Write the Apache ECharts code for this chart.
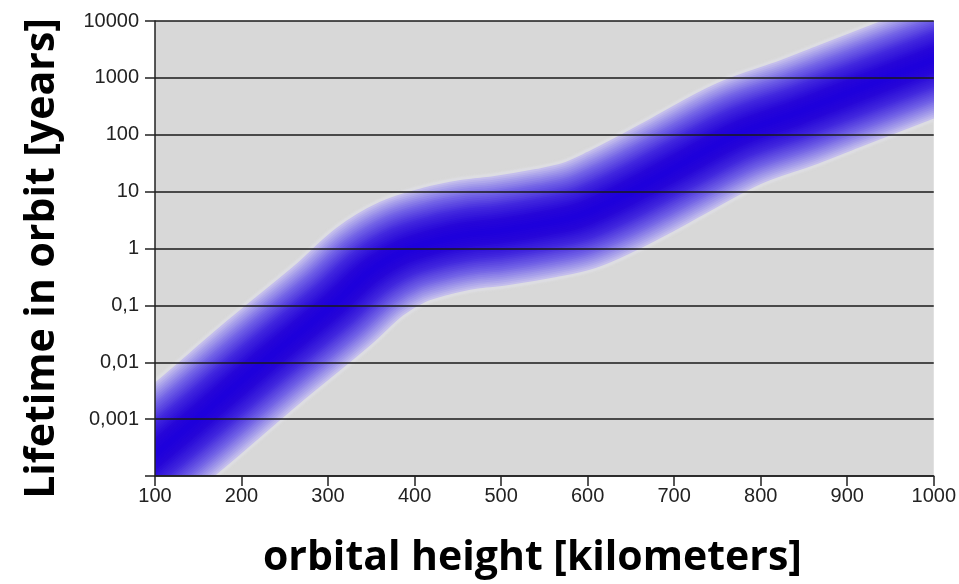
<!DOCTYPE html>
<html>
<head>
<meta charset="utf-8">
<script src="https://cdn.jsdelivr.net/npm/echarts@6/dist/echarts.min.js"></script>
<style>html,body{margin:0;padding:0;background:#fff;}#c{width:959px;height:584px;}</style>
</head>
<body>
<div id="c"></div>
<script>
// orbital height (km) along the centre of the band
var heightKm = [100, 150, 225, 305, 348, 386, 425, 463, 498, 552, 590, 628, 668, 706, 775, 844, 890, 1000];
// typical lifetime in orbit (years) at the centre of the band
var lifetimeYears = [0.00024, 0.00105, 0.01, 0.1, 0.39, 0.87, 1.35, 1.78, 2.04, 2.8, 3.8, 6.8, 14, 29, 105, 250, 470, 2100];
// axis tick labels
var yTickLabels = {'-4': '', '-3': '0,001', '-2': '0,01', '-1': '0,1', '0': '1', '1': '10', '2': '100', '3': '1000', '4': '10000'};

var centre = heightKm.map(function (h, i) { return [h, lifetimeYears[i]]; });

// --- styling of the fuzzy band (pixel widths and colours only) ---
function hex(c) { return [parseInt(c.substr(1, 2), 16), parseInt(c.substr(3, 2), 16), parseInt(c.substr(5, 2), 16)]; }
function mix(a, b, t) { var A = hex(a), B = hex(b); return 'rgb(' + [0, 1, 2].map(function (k) { return Math.round(A[k] + (B[k] - A[k]) * t); }).join(',') + ')'; }
var stops = [[0, '#c4beec'], [0.1, '#a69eea'], [0.3, '#7262e6'], [0.55, '#4228de'], [0.8, '#2606d8'], [1, '#1e00dc']];
function rampColor(t) {
  for (var i = 1; i < stops.length; i++) {
    if (t <= stops[i][0]) { var s0 = stops[i - 1], s1 = stops[i]; return mix(s0[1], s1[1], (t - s0[0]) / (s1[0] - s0[0])); }
  }
  return stops[stops.length - 1][1];
}
var N = 30, W0 = 110, W1 = 3;

function renderBand(params, api) {
  if (params.dataIndex !== 0) return null;
  var pts = centre.map(function (p) { return api.coord(p); });
  var children = [{
    type: 'polyline',
    shape: {points: pts, smooth: 0.35},
    style: {fill: null, stroke: '#dddde2', lineWidth: W0 + 5, lineCap: 'square', lineJoin: 'round', shadowBlur: 3, shadowColor: 'rgba(226,226,230,0.8)'}
  }];
  for (var i = 0; i < N; i++) {
    var t = i / (N - 1);
    children.push({
      type: 'polyline',
      shape: {points: pts, smooth: 0.35},
      style: {fill: null, stroke: rampColor(t), lineWidth: W0 + (W1 - W0) * t, lineCap: 'square', lineJoin: 'round'}
    });
  }
  return {type: 'group', children: children};
}

var chart = echarts.init(document.getElementById('c'), null, {renderer: 'canvas'});
chart.setOption({
  animation: false,
  grid: {left: 155, right: 24, top: 21, bottom: 106, show: true, backgroundColor: '#d8d8d8', borderWidth: 0},
  xAxis: {
    type: 'value', min: 100, max: 1000, interval: 100,
    z: 5,
    name: 'orbital height [kilometers]',
    nameLocation: 'middle', nameGap: 62,
    nameTextStyle: {fontFamily: 'Open Sans', fontWeight: 'bold', fontSize: 41, color: '#000', padding: [0, 24, 0, 0]},
    axisLine: {show: true, onZero: false, lineStyle: {color: '#222', width: 1.5}},
    axisTick: {show: true, length: 10, lineStyle: {color: '#222', width: 1.5}},
    axisLabel: {margin: 10, fontFamily: 'Liberation Sans', fontSize: 20, color: '#222', formatter: function (v) { return String(v); }},
    splitLine: {show: false}
  },
  yAxis: {
    type: 'log', logBase: 10, min: 0.0001, max: 10000, interval: 1, splitNumber: 8,
    z: 5,
    name: 'Lifetime in orbit [years]',
    nameLocation: 'middle', nameGap: 92,
    nameTextStyle: {fontFamily: 'Open Sans', fontWeight: 'bold', fontSize: 41, color: '#000', padding: [0, 20, 0, 0]},
    axisLine: {show: true, lineStyle: {color: '#222', width: 1.5}},
    axisTick: {show: true, length: 10, lineStyle: {color: '#222', width: 1.5}},
    axisLabel: {
      margin: 16, fontFamily: 'Liberation Sans', fontSize: 20, color: '#222',
      formatter: function (v) { var k = String(Math.round(Math.log10(v))); return yTickLabels[k] !== undefined ? yTickLabels[k] : ''; }
    },
    splitLine: {show: true, lineStyle: {color: '#1a1a1a', width: 1.5}}
  },
  series: [{
    type: 'custom',
    coordinateSystem: 'cartesian2d',
    clip: true,
    silent: true,
    z: 1,
    data: centre,
    renderItem: renderBand
  }]
});
</script>
</body>
</html>
